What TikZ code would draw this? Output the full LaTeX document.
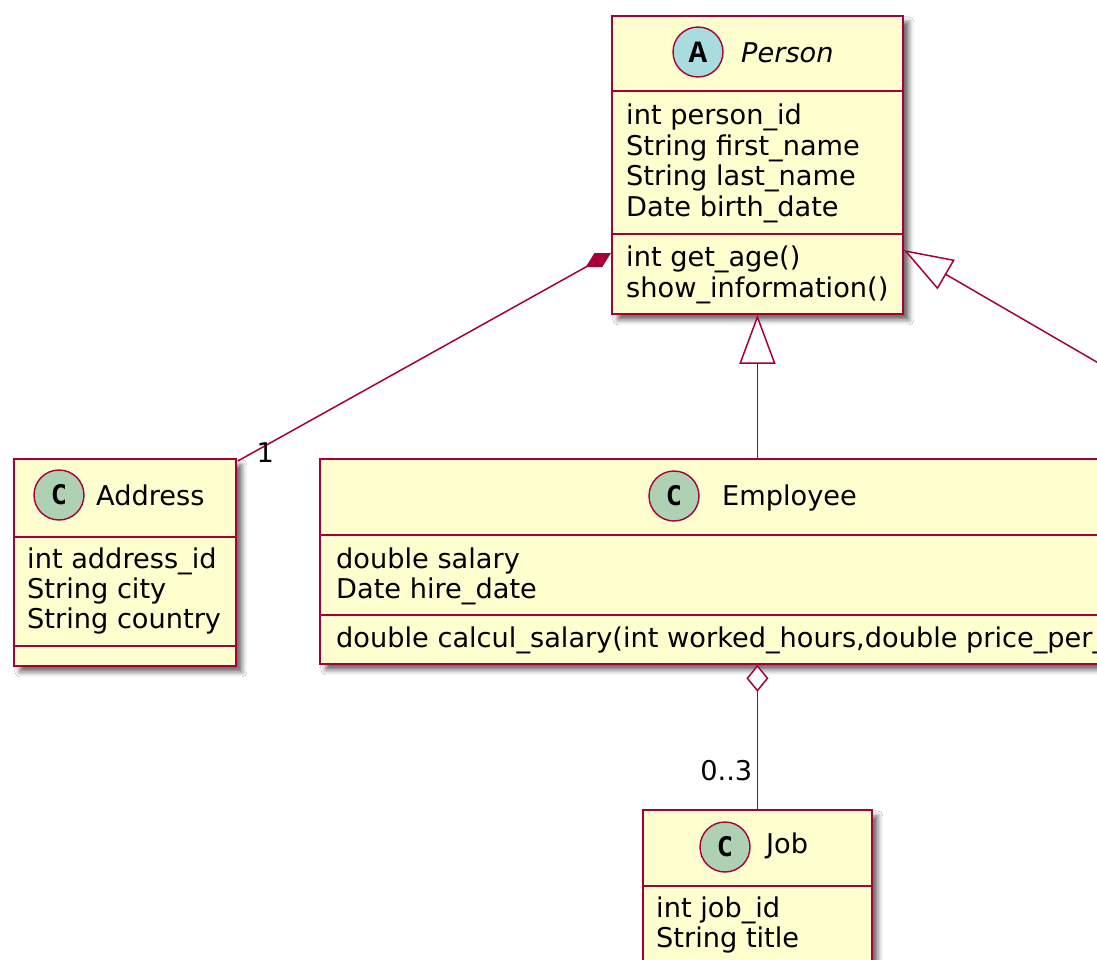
\documentclass[tikz,border=0pt]{standalone}
\usepackage{fontspec}
\setmainfont{DejaVu Sans}
\newfontfamily\monoA{Liberation Mono}
\newfontfamily\monoC{DejaVu Sans Mono}
\usetikzlibrary{arrows.meta,shadows.blur,calc}
\definecolor{umlred}{HTML}{A80036}
\definecolor{umlfill}{HTML}{FEFECE}
\definecolor{circA}{HTML}{A9DCDF}
\definecolor{circC}{HTML}{ADD1B2}
\tikzset{
  umlbox/.style={draw=umlred, fill=umlfill, line width=1.8pt, inner sep=0pt, anchor=north west,
    blur shadow={shadow xshift=6pt, shadow yshift=-6pt, shadow blur radius=5pt, shadow opacity=60}},
  sepline/.style={draw=umlred, line width=1.8pt},
  txt/.style={inner sep=0pt, anchor=base west, font=\fontsize{27.2}{31}\selectfont},
  lbl/.style={inner sep=0pt, font=\fontsize{27.2}{31}\selectfont},
  circ/.style={circle, draw=umlred, line width=1.4pt, minimum size=50pt, inner sep=0pt},
  circAstyle/.style={circ, fill=circA, font=\monoA\bfseries\fontsize{31}{31}\selectfont},
  circCstyle/.style={circ, fill=circC, font=\monoC\bfseries\fontsize{27}{27}\selectfont},
  umlline/.style={draw=umlred, line width=1.5pt},
}
\begin{document}
\begin{tikzpicture}[x=1pt,y=-1pt]
\useasboundingbox (0,0) rectangle (1097,959);
\clip (0,0) rectangle (1097,959);
\fill[white] (0,0) rectangle (1097,959);

% ---------- Person ----------
\node[umlbox, minimum width=291pt, minimum height=298pt] (person) at (611,15) {};
\draw[sepline] (611,91) -- (902,91);
\draw[sepline] (611,234) -- (902,234);
\node[circAstyle] (pcirc) at (698,52) {A};
\node[txt] (pname) at (741,62) {\itshape Person};
\node[txt] (p1) at (626,124) {int person\_id};
\node[txt] (p2) at (626,155) {String first\_name};
\node[txt] (p3) at (626,185) {String last\_name};
\node[txt] (p4) at (626,216) {Date birth\_date};
\node[txt] (p5) at (626,266) {int get\_age()};
\node[txt] (p6) at (626,297) {show\_information()};

% ---------- Address ----------
\node[umlbox, minimum width=222pt, minimum height=207pt] (address) at (13,458) {};
\draw[sepline] (13,537) -- (235,537);
\draw[sepline] (13,646) -- (235,646);
\node[circCstyle] (acirc) at (59,495) {C};
\node[txt] (aname) at (96,505) {Address};
\node[txt] (a1) at (27,568) {int address\_id};
\node[txt] (a2) at (27,598) {String city};
\node[txt] (a3) at (27,628) {String country};

% ---------- Employee ----------
\node[umlbox, minimum width=874pt, minimum height=205pt] (employee) at (319,458) {};
\draw[sepline] (319,535) -- (1193,535);
\draw[sepline] (319,615) -- (1193,615);
\node[circCstyle] (ecirc) at (674,496) {C};
\node[txt] (ename) at (722,505) {Employee};
\node[txt] (e1) at (336,568) {double salary};
\node[txt] (e2) at (336,598) {Date hire\_date};
\node[txt] (e3) at (336,647) {double calcul\_salary(int worked\_hours,double price\_per\_hour)};

% ---------- Job ----------
\node[umlbox, minimum width=229pt, minimum height=400pt] (job) at (642,809) {};
\draw[sepline] (642,886) -- (871,886);
\node[circCstyle] (jcirc) at (725,847) {C};
\node[txt] (jname) at (766,853) {Job};
\node[txt] (j1) at (656,917) {int job\_id};
\node[txt] (j2) at (656,947) {String title};

% ---------- connectors ----------
\coordinate (offright) at (1300,480);
% composition Person - Address
\draw[umlline, {Diamond[length=29pt,width=16pt,fill=umlred]}-]
  ($(person.north west)+(0,238)$) -- ($(address.north east)+(1,3)$);
\node[lbl, anchor=base] (mult1) at ($(address.north east)+(28.5,4)$) {1};
% inheritance Employee -> Person
\draw[umlline, {Triangle[open,length=49pt,width=36pt,fill=white]}-]
  (person.south) -- (person.south |- employee.north);
% inheritance (off picture) -> Person
\draw[umlline, {Triangle[open,length=49pt,width=34pt,fill=white]}-]
  ($(person.north east)+(0,235)$) -- (offright);
% aggregation Employee - Job
\draw[umlline, {Diamond[open,length=27pt,width=22pt,fill=white]}-]
  (person.south |- employee.south) -- (person.south |- job.north);
\node[lbl, anchor=base east] (mult2) at ($(job.north)+(-5,-29)$) {0..3};
\end{tikzpicture}
\end{document}
